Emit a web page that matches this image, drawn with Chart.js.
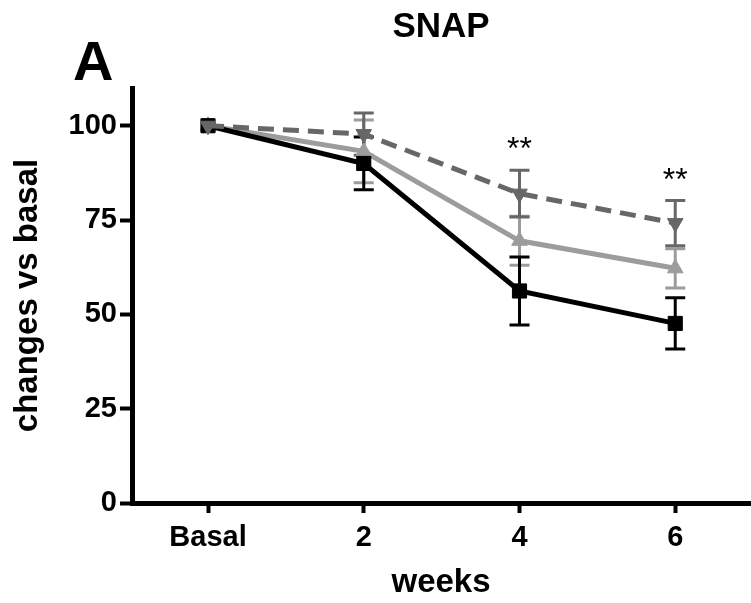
<!DOCTYPE html>
<html lang="en">
<head>
    <meta charset="UTF-8">
    <title>SNAP</title>
    <script src="https://cdn.jsdelivr.net/npm/chart.js"></script>
    <style>
        html, body {
            margin: 0;
            padding: 0;
            background: #ffffff;
        }
        #chart {
            display: block;
        }
    </style>
</head>
<body>
    <canvas id="chart" width="751" height="603"></canvas>

    <script>
        // x categories (plotted at positions 0..3 on a linear scale)
        const weekLabels = ["Basal", "2", "4", "6"];
        const weekPos = [0, 1, 2, 3];

        // black squares, solid
        const squareMean = [100, 90, 56.2, 47.6];
        const squareErr  = [0, 7, 9, 6.8];
        // light grey up-triangles, solid
        const upMean = [100, 93.2, 69.5, 62.2];
        const upErr  = [0, 8.3, 6.5, 5.2];
        // dark grey down-triangles, dashed
        const downMean = [100, 97.8, 82, 74.2];
        const downErr  = [0, 5.6, 6.2, 6];

        const yTicks = [0, 25, 50, 75, 100];

        // significance marks "**"
        const starPos = [2, 3];
        const starLevel = [91.2, 83];

        const FONT = "'Liberation Sans', Arial, sans-serif";

        function points(means) {
            return means.map((v, i) => ({ x: weekPos[i], y: v }));
        }

        const errorBars = {
            id: 'errorBars',
            beforeDatasetsDraw(chart) {
                const ctx = chart.ctx;
                const xs = chart.scales.x;
                const ys = chart.scales.y;
                // draw from last dataset to first, like the lines
                for (let d = chart.data.datasets.length - 1; d >= 0; d--) {
                    const ds = chart.data.datasets[d];
                    ctx.save();
                    ctx.strokeStyle = ds.borderColor;
                    ctx.lineWidth = 3;
                    ds.data.forEach((p, j) => {
                        const e = ds.errors[j];
                        if (!e) return;
                        const px = xs.getPixelForValue(p.x);
                        const top = ys.getPixelForValue(p.y + e);
                        const bot = ys.getPixelForValue(p.y - e);
                        ctx.beginPath();
                        ctx.moveTo(px, top);
                        ctx.lineTo(px, bot);
                        ctx.moveTo(px - 10, top);
                        ctx.lineTo(px + 10, top);
                        ctx.moveTo(px - 10, bot);
                        ctx.lineTo(px + 10, bot);
                        ctx.stroke();
                    });
                    ctx.restore();
                }
            }
        };

        const extraText = {
            id: 'extraText',
            afterDraw(chart) {
                const ctx = chart.ctx;
                const xs = chart.scales.x;
                const ys = chart.scales.y;
                ctx.save();
                ctx.fillStyle = '#000';
                ctx.textAlign = 'center';
                ctx.textBaseline = 'alphabetic';
                ctx.font = "32px " + FONT;
                starPos.forEach((s, i) => {
                    ctx.fillText("**", xs.getPixelForValue(s), ys.getPixelForValue(starLevel[i]));
                });
                // panel letter
                ctx.font = "bold 56px " + FONT;
                ctx.textAlign = 'left';
                ctx.fillText("A", 73, 80);
                ctx.restore();
            }
        };

        new Chart(document.getElementById("chart"), {
            type: 'line',
            data: {
                datasets: [
                    {
                        label: 'down',
                        data: points(downMean),
                        errors: downErr,
                        borderColor: '#676767',
                        backgroundColor: '#676767',
                        borderWidth: 5,
                        borderDash: [16, 9],
                        pointStyle: 'triangle',
                        rotation: 180,
                        pointRadius: 9,
                        pointBorderWidth: 1
                    },
                    {
                        label: 'square',
                        data: points(squareMean),
                        errors: squareErr,
                        borderColor: '#000000',
                        backgroundColor: '#000000',
                        borderWidth: 5,
                        pointStyle: 'rect',
                        pointRadius: 10,
                        pointBorderWidth: 1
                    },
                    {
                        label: 'up',
                        data: points(upMean),
                        errors: upErr,
                        borderColor: '#9c9c9c',
                        backgroundColor: '#9c9c9c',
                        borderWidth: 5,
                        pointStyle: 'triangle',
                        pointRadius: 9,
                        pointBorderWidth: 1
                    }
                ]
            },
            options: {
                responsive: false,
                animation: false,
                layout: { autoPadding: false, padding: { top: 0, right: 1, left: 0, bottom: 0 } },
                plugins: {
                    legend: { display: false },
                    tooltip: { enabled: false },
                    title: {
                        display: true,
                        text: 'SNAP',
                        fullSize: false,
                        color: '#000',
                        font: { family: FONT, size: 35, weight: 'bold' },
                        padding: { top: 6, bottom: 40 }
                    }
                },
                scales: {
                    x: {
                        type: 'linear',
                        min: -0.488,
                        max: 3.48,
                        afterBuildTicks(scale) {
                            scale.ticks = weekPos.map(v => ({ value: v }));
                        },
                        afterFit(scale) {
                            scale.height = 100;
                        },
                        ticks: {
                            color: '#000',
                            font: { family: FONT, size: 29, weight: 'bold' },
                            padding: 8,
                            maxRotation: 0,
                            callback: (v) => weekLabels[weekPos.indexOf(v)]
                        },
                        grid: {
                            drawOnChartArea: false,
                            tickLength: 10,
                            tickWidth: 4,
                            tickColor: '#000'
                        },
                        border: { color: '#000', width: 5 },
                        title: {
                            display: true,
                            text: 'weeks',
                            color: '#000',
                            font: { family: FONT, size: 33, weight: 'bold' },
                            padding: { top: 0, bottom: 0 }
                        }
                    },
                    y: {
                        min: 0,
                        max: 110,
                        afterBuildTicks(scale) {
                            scale.ticks = yTicks.map(v => ({ value: v }));
                        },
                        afterFit(scale) {
                            scale.width = 132;
                        },
                        ticks: {
                            color: '#000',
                            font: { family: FONT, size: 29, weight: 'bold' },
                            padding: 3
                        },
                        grid: {
                            drawOnChartArea: false,
                            tickLength: 12,
                            tickWidth: 4,
                            tickColor: '#000'
                        },
                        border: { color: '#000', width: 5 },
                        title: {
                            display: true,
                            text: 'changes vs basal',
                            color: '#000',
                            font: { family: FONT, size: 33, weight: 'bold' },
                            padding: { top: 8, bottom: 0 }
                        }
                    }
                }
            },
            plugins: [errorBars, extraText]
        });
    </script>
</body>
</html>
